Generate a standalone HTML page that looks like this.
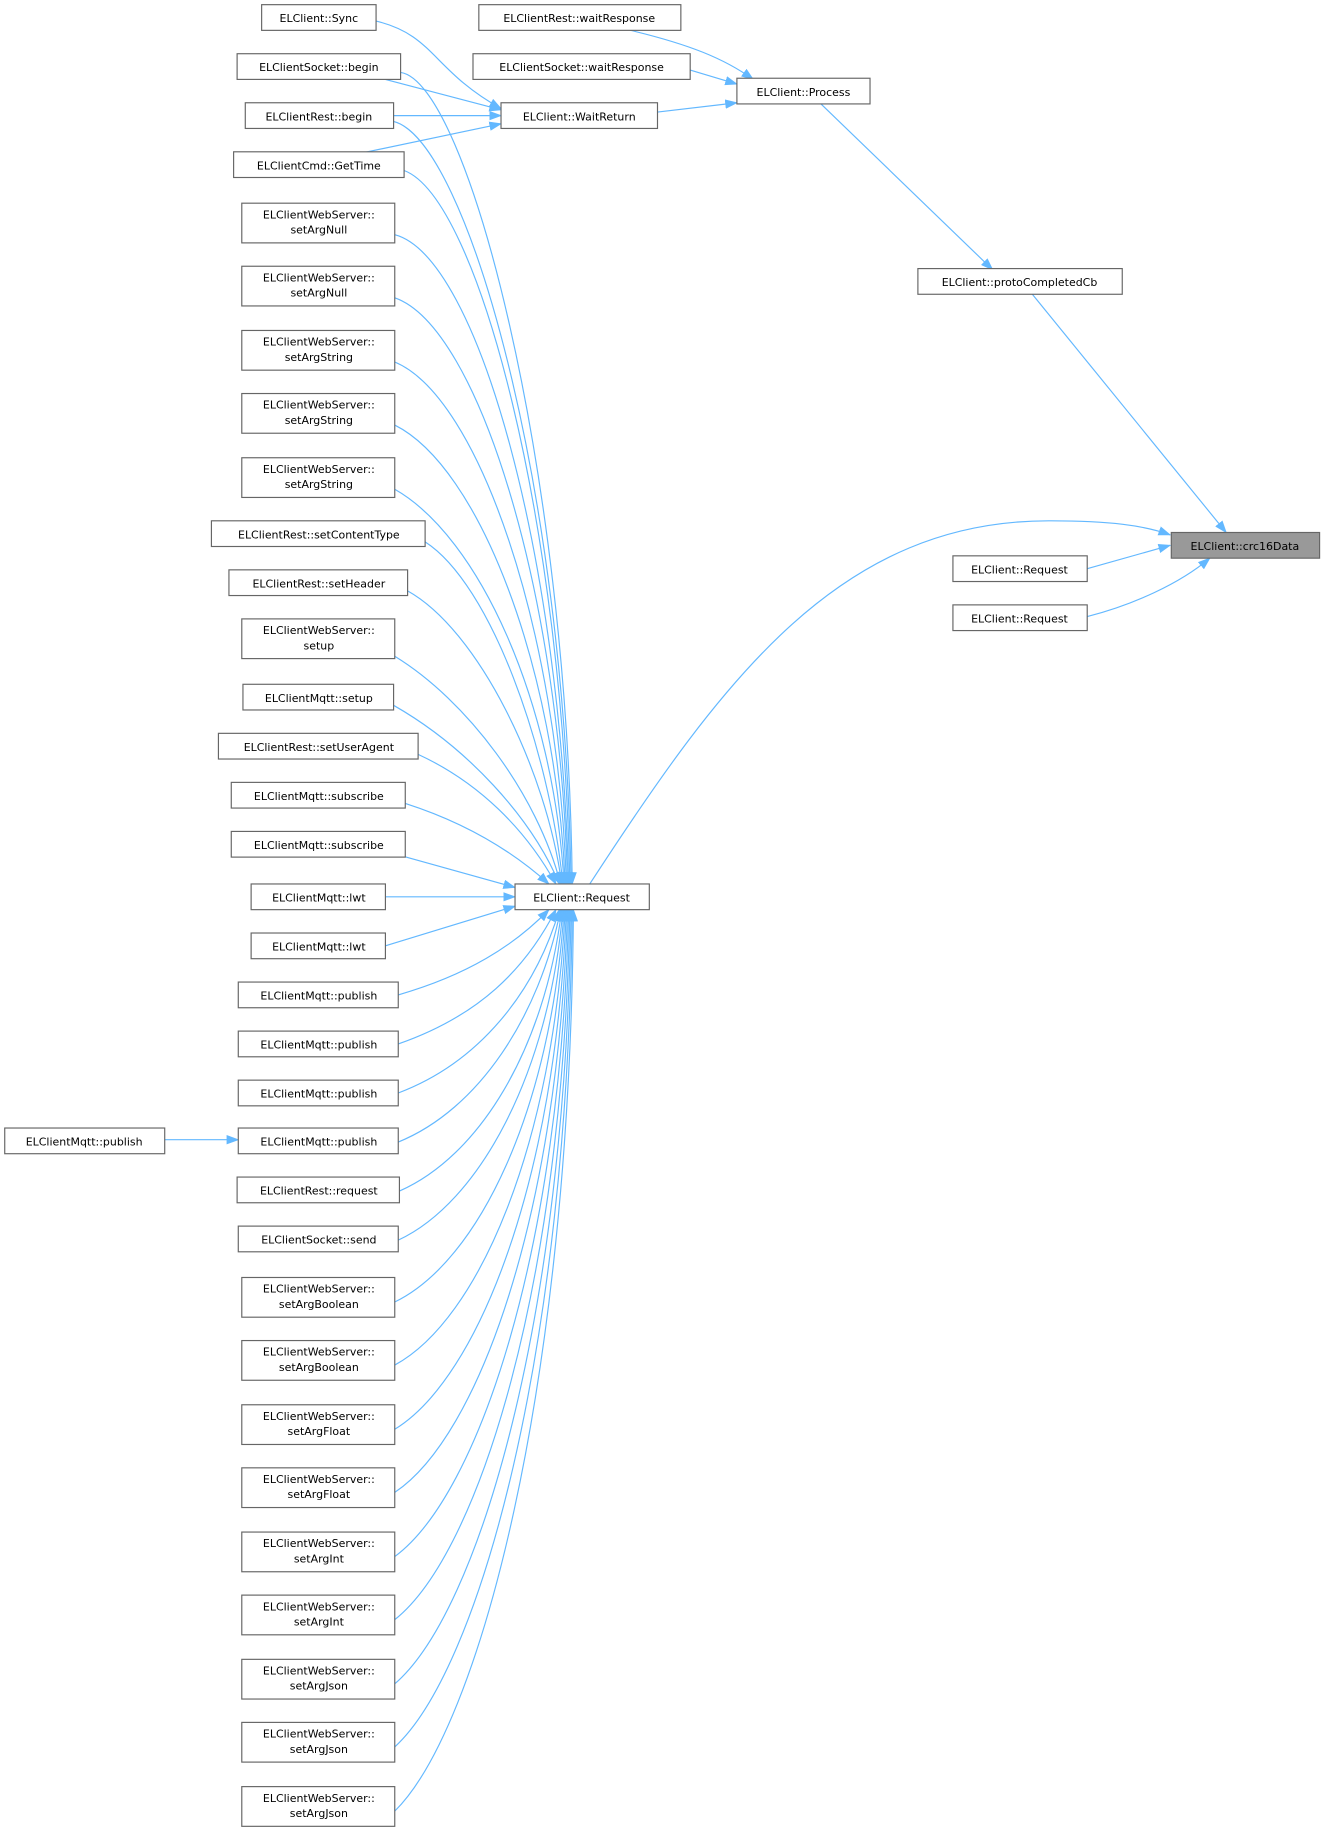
<!DOCTYPE html>
<html><head><meta charset="utf-8"><style>
html,body{margin:0;padding:0;background:#fff;}
svg{display:block;}
text{font-family:"DejaVu Sans","Liberation Sans",sans-serif;font-size:9.4px;fill:#000;}
.b{fill:#fff;stroke:#666;stroke-width:1;}
.e{fill:none;stroke:#63b8ff;stroke-width:1;}
</style></head><body>
<svg width="1329" height="1838" viewBox="0 0 1138 1574" xmlns="http://www.w3.org/2000/svg">
<defs><marker id="a" markerUnits="userSpaceOnUse" markerWidth="11" markerHeight="8" refX="10" refY="4" orient="auto"><path d="M0,0 L11,4 L0,8 z" fill="#63b8ff"/></marker></defs>
<g class="e" marker-end="url(#a)">
<path d="M322,18 C372,30 370,60 429,93"/>
<path d="M330,68 L429,94"/>
<path d="M337,99 L429,99"/>
<path d="M310,131 L429,106"/>
<path d="M563,96 L631,88"/>
<path d="M540,26 C590,38 620,50 645,68"/>
<path d="M591,60 L631,72"/>
<path d="M703,89 L850,231"/>
<path d="M884,252 L1050,456"/>
<path d="M505,757 C620,580 720,445 900,446 C950,446 980,450 1002,458"/>
<path d="M931,487 L1002,467"/>
<path d="M931,528 C970,518 1010,500 1036,478"/>
<path d="M141,976 L204,976"/>
<path d="M343,62 C400,70 486,400 490,757"/>
<path d="M337,104 C400,120 484,420 489,757"/>
<path d="M346,146 C410,170 482,450 488,757"/>
<path d="M338,201 C410,220 480,480 487,757"/>
<path d="M338,255 C410,280 480,510 486,757"/>
<path d="M338,310 C410,340 478,540 485,757"/>
<path d="M338,364 C410,400 476,570 484,757"/>
<path d="M338,419 C410,460 474,600 483,757"/>
<path d="M364,464 C420,500 470,640 482,757"/>
<path d="M349,506 C410,540 468,660 481,757"/>
<path d="M338,562 C400,600 460,680 480,757"/>
<path d="M337,604 C400,640 455,700 479,757"/>
<path d="M358,646 C410,670 450,710 476,757"/>
<path d="M347,688 C400,705 440,730 470,757"/>
<path d="M330,729 L441,760"/>
<path d="M330,768 L441,768"/>
<path d="M330,810 L441,776"/>
<path d="M341,852 C400,835 440,810 470,779"/>
<path d="M341,894 C410,870 450,830 476,779"/>
<path d="M341,936 C410,910 458,850 479,779"/>
<path d="M341,978 C410,950 462,870 480,779"/>
<path d="M342,1020 C410,990 466,900 481,779"/>
<path d="M341,1062 C410,1030 470,920 482,779"/>
<path d="M338,1115 C410,1080 472,950 483,779"/>
<path d="M338,1169 C410,1130 474,980 484,779"/>
<path d="M338,1224 C410,1180 476,1010 485,779"/>
<path d="M338,1278 C410,1230 478,1040 486,779"/>
<path d="M338,1333 C410,1280 480,1070 487,779"/>
<path d="M338,1387 C410,1330 482,1100 488,779"/>
<path d="M338,1442 C410,1380 484,1130 489,779"/>
<path d="M338,1496 C410,1430 486,1160 490,779"/>
<path d="M338,1551 C410,1480 488,1190 491,779"/>
</g>
<g>
<rect class="b" x="224" y="4" width="98" height="22"/><text x="273" y="19" text-anchor="middle">ELClient::Sync</text>
<rect class="b" x="203" y="46" width="140" height="22"/><text x="273" y="61" text-anchor="middle">ELClientSocket::begin</text>
<rect class="b" x="210" y="88" width="127" height="22"/><text x="273" y="103" text-anchor="middle">ELClientRest::begin</text>
<rect class="b" x="200" y="130" width="146" height="22"/><text x="273" y="145" text-anchor="middle">ELClientCmd::GetTime</text>
<rect class="b" x="207" y="174" width="131" height="34"/><text x="273" y="187" text-anchor="middle">ELClientWebServer::</text><text x="273" y="200" text-anchor="middle">setArgNull</text>
<rect class="b" x="207" y="228" width="131" height="34"/><text x="273" y="241" text-anchor="middle">ELClientWebServer::</text><text x="273" y="254" text-anchor="middle">setArgNull</text>
<rect class="b" x="207" y="283" width="131" height="34"/><text x="273" y="296" text-anchor="middle">ELClientWebServer::</text><text x="273" y="309" text-anchor="middle">setArgString</text>
<rect class="b" x="207" y="337" width="131" height="34"/><text x="273" y="350" text-anchor="middle">ELClientWebServer::</text><text x="273" y="363" text-anchor="middle">setArgString</text>
<rect class="b" x="207" y="392" width="131" height="34"/><text x="273" y="405" text-anchor="middle">ELClientWebServer::</text><text x="273" y="418" text-anchor="middle">setArgString</text>
<rect class="b" x="181" y="446" width="183" height="22"/><text x="273" y="461" text-anchor="middle">ELClientRest::setContentType</text>
<rect class="b" x="196" y="488" width="153" height="22"/><text x="273" y="503" text-anchor="middle">ELClientRest::setHeader</text>
<rect class="b" x="207" y="530" width="131" height="34"/><text x="273" y="543" text-anchor="middle">ELClientWebServer::</text><text x="273" y="556" text-anchor="middle">setup</text>
<rect class="b" x="208" y="586" width="129" height="22"/><text x="273" y="601" text-anchor="middle">ELClientMqtt::setup</text>
<rect class="b" x="187" y="628" width="171" height="22"/><text x="273" y="643" text-anchor="middle">ELClientRest::setUserAgent</text>
<rect class="b" x="198" y="670" width="149" height="22"/><text x="273" y="685" text-anchor="middle">ELClientMqtt::subscribe</text>
<rect class="b" x="198" y="712" width="149" height="22"/><text x="273" y="727" text-anchor="middle">ELClientMqtt::subscribe</text>
<rect class="b" x="215" y="757" width="115" height="22"/><text x="273" y="772" text-anchor="middle">ELClientMqtt::lwt</text>
<rect class="b" x="215" y="799" width="115" height="22"/><text x="273" y="814" text-anchor="middle">ELClientMqtt::lwt</text>
<rect class="b" x="204" y="841" width="137" height="22"/><text x="273" y="856" text-anchor="middle">ELClientMqtt::publish</text>
<rect class="b" x="204" y="883" width="137" height="22"/><text x="273" y="898" text-anchor="middle">ELClientMqtt::publish</text>
<rect class="b" x="204" y="925" width="137" height="22"/><text x="273" y="940" text-anchor="middle">ELClientMqtt::publish</text>
<rect class="b" x="204" y="966" width="137" height="22"/><text x="273" y="981" text-anchor="middle">ELClientMqtt::publish</text>
<rect class="b" x="203" y="1008" width="139" height="22"/><text x="273" y="1023" text-anchor="middle">ELClientRest::request</text>
<rect class="b" x="204" y="1050" width="137" height="22"/><text x="273" y="1065" text-anchor="middle">ELClientSocket::send</text>
<rect class="b" x="207" y="1094" width="131" height="34"/><text x="273" y="1107" text-anchor="middle">ELClientWebServer::</text><text x="273" y="1120" text-anchor="middle">setArgBoolean</text>
<rect class="b" x="207" y="1148" width="131" height="34"/><text x="273" y="1161" text-anchor="middle">ELClientWebServer::</text><text x="273" y="1174" text-anchor="middle">setArgBoolean</text>
<rect class="b" x="207" y="1203" width="131" height="34"/><text x="273" y="1216" text-anchor="middle">ELClientWebServer::</text><text x="273" y="1229" text-anchor="middle">setArgFloat</text>
<rect class="b" x="207" y="1257" width="131" height="34"/><text x="273" y="1270" text-anchor="middle">ELClientWebServer::</text><text x="273" y="1283" text-anchor="middle">setArgFloat</text>
<rect class="b" x="207" y="1312" width="131" height="34"/><text x="273" y="1325" text-anchor="middle">ELClientWebServer::</text><text x="273" y="1338" text-anchor="middle">setArgInt</text>
<rect class="b" x="207" y="1366" width="131" height="34"/><text x="273" y="1379" text-anchor="middle">ELClientWebServer::</text><text x="273" y="1392" text-anchor="middle">setArgInt</text>
<rect class="b" x="207" y="1421" width="131" height="34"/><text x="273" y="1434" text-anchor="middle">ELClientWebServer::</text><text x="273" y="1447" text-anchor="middle">setArgJson</text>
<rect class="b" x="207" y="1475" width="131" height="34"/><text x="273" y="1488" text-anchor="middle">ELClientWebServer::</text><text x="273" y="1501" text-anchor="middle">setArgJson</text>
<rect class="b" x="207" y="1530" width="131" height="34"/><text x="273" y="1543" text-anchor="middle">ELClientWebServer::</text><text x="273" y="1556" text-anchor="middle">setArgJson</text>
<rect class="b" x="4" y="966" width="137" height="22"/><text x="72" y="981" text-anchor="middle">ELClientMqtt::publish</text>
<rect class="b" x="429" y="88" width="134" height="22"/><text x="496" y="103" text-anchor="middle">ELClient::WaitReturn</text>
<rect class="b" x="441" y="757" width="115" height="22"/><text x="498" y="772" text-anchor="middle">ELClient::Request</text>
<rect class="b" x="410" y="4" width="173" height="22"/><text x="496" y="19" text-anchor="middle">ELClientRest::waitResponse</text>
<rect class="b" x="405" y="46" width="186" height="22"/><text x="498" y="61" text-anchor="middle">ELClientSocket::waitResponse</text>
<rect class="b" x="631" y="67" width="114" height="22"/><text x="688" y="82" text-anchor="middle">ELClient::Process</text>
<rect class="b" x="786" y="230" width="175" height="22"/><text x="873" y="245" text-anchor="middle">ELClient::protoCompletedCb</text>
<rect x="1003" y="456" width="127" height="22" fill="#999" stroke="#666"/><text x="1066" y="471" text-anchor="middle">ELClient::crc16Data</text>
<rect class="b" x="816" y="476" width="115" height="22"/><text x="873" y="491" text-anchor="middle">ELClient::Request</text>
<rect class="b" x="816" y="518" width="115" height="22"/><text x="873" y="533" text-anchor="middle">ELClient::Request</text>
</g>
</svg>
</body></html>
